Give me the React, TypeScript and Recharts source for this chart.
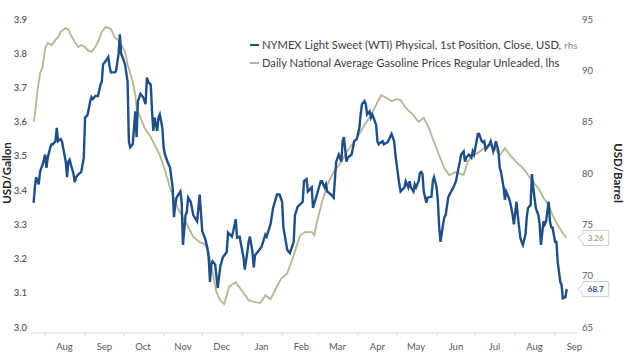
import { LineChart, Line, XAxis, YAxis, LabelList } from "recharts";

// x values are days counted from 1 Aug of the first year
const monthStarts = [0, 31, 61, 92, 122, 153, 184, 212, 243, 273, 304, 334, 365, 396];
const monthLabels = ["Aug", "Sep", "Oct", "Nov", "Dec", "Jan", "Feb", "Mar", "Apr", "May", "Jun", "Jul", "Aug", "Sep"];
const monthMids = monthStarts.map((d) => d + 15);

const gasTicks = [3.0, 3.1, 3.2, 3.3, 3.4, 3.5, 3.6, 3.7, 3.8, 3.9];
const wtiTicks = [65, 70, 75, 80, 85, 90, 95];

// Daily National Average Gasoline Prices Regular Unleaded (USD/gallon, lhs)
const gasDays = [
  -9, -8, -6, -4, -2, 0, 2, 5, 8, 10,
  12, 16, 18, 20, 23, 26, 28, 31, 33, 36,
  39, 41, 44, 47, 51, 54, 58, 62, 64, 68,
  70, 71, 74, 78, 82, 85, 89, 93, 97, 103,
  106, 110, 115, 120, 124, 127, 130, 133, 136, 139,
  143, 148, 153, 158, 163, 167, 171, 175, 179, 183,
  188, 192, 195, 198, 202, 207, 209, 211, 215, 219,
  224, 230, 234, 238, 242, 248, 253, 257, 261, 265,
  269, 273, 276, 280, 286, 290, 294, 298, 302, 306,
  310, 314, 319, 325, 328, 332, 337, 341, 345, 349,
  353, 357, 361, 366, 371, 375, 379, 383, 387, 391,
  394, 398, 402, 405,
];
const gasPrices = [
  3.6, 3.62, 3.69, 3.74, 3.76, 3.815, 3.83, 3.824, 3.839, 3.847,
  3.862, 3.874, 3.868, 3.853, 3.833, 3.818, 3.824, 3.818, 3.809, 3.804,
  3.818, 3.833, 3.862, 3.877, 3.871, 3.847, 3.833, 3.804, 3.768, 3.716,
  3.678, 3.64, 3.611, 3.576, 3.555, 3.532, 3.502, 3.458, 3.406, 3.347,
  3.327, 3.301, 3.263, 3.248, 3.242, 3.219, 3.16, 3.102, 3.078, 3.067,
  3.119, 3.131, 3.105, 3.078, 3.073, 3.07, 3.093, 3.081, 3.111, 3.14,
  3.157, 3.198, 3.233, 3.268, 3.277, 3.277, 3.268, 3.306, 3.365, 3.415,
  3.453, 3.482, 3.511, 3.532, 3.552, 3.59, 3.619, 3.649, 3.678, 3.669,
  3.66, 3.666, 3.663, 3.64, 3.619, 3.599, 3.611, 3.581, 3.54, 3.502,
  3.464, 3.444, 3.453, 3.444, 3.482, 3.502, 3.511, 3.523, 3.532, 3.523,
  3.502, 3.523, 3.502, 3.482, 3.464, 3.444, 3.423, 3.406, 3.377, 3.356,
  3.327, 3.298, 3.274, 3.26,
];

// NYMEX Light Sweet (WTI) Physical, 1st Position, Close (USD/barrel, rhs)
const wtiDays = [
  -9, -8, -7, -5, -4, -3, -2, 0, 1, 2,
  4, 5, 6, 8, 9, 10, 12, 13, 16, 17,
  18, 19, 20, 22, 23, 24, 26, 28, 30, 31,
  32, 33, 35, 36, 37, 39, 41, 43, 44, 45,
  47, 49, 50, 51, 54, 55, 57, 58, 59, 60,
  62, 64, 65, 66, 68, 70, 71, 72, 74, 76,
  78, 79, 80, 82, 83, 84, 85, 87, 88, 89,
  91, 92, 93, 95, 96, 97, 99, 100, 101, 102,
  105, 106, 107, 109, 110, 111, 113, 114, 115, 118,
  120, 122, 123, 124, 126, 127, 128, 129, 130, 132,
  134, 136, 138, 141, 142, 145, 146, 148, 149, 151,
  154, 155, 157, 158, 159, 161, 162, 163, 165, 168,
  171, 172, 175, 177, 180, 182, 184, 185, 188, 190,
  193, 194, 196, 200, 201, 203, 204, 207, 208, 211,
  214, 215, 217, 218, 219, 222, 224, 226, 228, 230,
  231, 232, 234, 235, 238, 240, 242, 244, 245, 246,
  248, 249, 250, 252, 253, 254, 255, 257, 258, 259,
  262, 263, 266, 269, 271, 272, 273, 275, 276, 279,
  280, 282, 283, 284, 286, 287, 288, 290, 291, 292,
  293, 294, 296, 297, 300, 301, 302, 304, 305, 306,
  307, 309, 310, 311, 313, 314, 317, 319, 321, 322,
  323, 325, 326, 327, 329, 331, 332, 333, 335, 336,
  337, 339, 340, 341, 342, 345, 346, 348, 349, 350,
  352, 353, 354, 356, 357, 358, 360, 361, 362, 363,
  364, 366, 367, 369, 370, 371, 373, 374, 375, 377,
  378, 379, 380, 381, 383, 384, 385, 387, 388, 389,
  391, 392, 393, 394, 396, 397, 398, 400, 401, 402,
  404, 405,
];
const wtiPrices = [
  77.1, 78.6, 79.6, 78.9, 80.1, 80.5, 80.8, 81.8, 80.5, 81.5,
  82.5, 82.8, 82.8, 83.1, 84.4, 83.1, 83.3, 83.1, 81.1, 79.6,
  81.1, 81.3, 80.8, 79.9, 79.1, 79.6, 79.9, 80.1, 81.5, 85.4,
  85.5, 85.7, 87.0, 87.4, 87.2, 87.5, 87.5, 88.6, 88.9, 90.6,
  90.9, 91.3, 90.4, 89.8, 89.8, 89.9, 91.6, 93.5, 91.6, 91.3,
  90.6, 88.9, 83.1, 82.5, 82.8, 86.0, 83.5, 87.0, 87.7, 87.4,
  86.7, 89.3, 88.9, 88.6, 86.0, 84.1, 85.4, 84.1, 85.4, 85.7,
  84.4, 82.5, 81.8, 81.1, 80.8, 80.5, 78.6, 75.7, 76.9, 77.6,
  78.2, 77.2, 73.0, 75.9, 76.2, 77.6, 77.2, 76.6, 75.9, 75.3,
  77.9, 74.3, 74.0, 73.7, 72.7, 71.7, 69.4, 71.1, 71.4, 71.1,
  68.8, 70.9, 71.8, 72.3, 74.2, 73.8, 74.3, 75.5, 73.7, 73.8,
  71.8, 70.6, 72.3, 73.3, 73.8, 72.3, 70.8, 72.0, 72.3, 72.8,
  74.0, 73.8, 75.0, 76.6, 77.9, 77.9, 77.2, 74.7, 72.5, 72.2,
  73.3, 75.9, 76.7, 77.2, 79.2, 79.4, 78.2, 78.6, 76.6, 77.9,
  79.2, 79.2, 78.6, 78.9, 78.2, 77.9, 77.6, 81.1, 81.8, 81.1,
  83.1, 83.5, 81.1, 81.5, 81.8, 83.1, 83.3, 84.4, 85.7, 86.7,
  87.0, 86.7, 85.7, 86.0, 85.4, 85.7, 85.4, 84.7, 83.1, 82.8,
  83.1, 82.8, 83.0, 83.8, 83.1, 81.8, 80.8, 78.9, 78.2, 78.6,
  79.2, 78.6, 79.2, 78.6, 78.2, 78.9, 78.6, 79.2, 80.0, 80.1,
  79.9, 78.2, 77.1, 77.6, 77.7, 79.2, 79.6, 78.6, 77.2, 74.7,
  73.3, 75.0, 75.7, 75.9, 77.6, 77.9, 78.6, 79.2, 80.5, 81.1,
  81.8, 82.1, 81.1, 81.5, 81.8, 81.5, 82.1, 81.8, 83.1, 83.8,
  83.8, 83.1, 83.0, 83.1, 82.3, 82.8, 83.1, 82.1, 82.5, 83.1,
  82.1, 80.5, 80.1, 78.6, 77.4, 78.2, 77.6, 77.2, 76.6, 75.9,
  75.0, 77.2, 75.9, 73.7, 73.3, 73.0, 74.0, 75.7, 76.6, 76.9,
  79.9, 78.6, 77.6, 76.6, 75.9, 75.0, 73.0, 75.3, 75.0, 75.3,
  77.2, 75.3, 74.7, 74.7, 73.3, 73.3, 71.4, 69.4, 69.1, 67.8,
  67.9, 68.7,
];

const WTI_COLOR = "#1d4f8a";
const GAS_COLOR = "#bab391";
const TEXT = "#595959";
const FONT = "Lato, 'Open Sans', sans-serif";

const gasData = gasDays.map((d, i) => ({ d, v: gasPrices[i] }));
const wtiData = wtiDays.map((d, i) => ({ d, v: wtiPrices[i] }));
const xTicks = [...monthStarts, ...monthMids].sort((a, b) => a - b);

function MonthTick({ x, y, payload }: any) {
  if (monthStarts.includes(payload.value)) {
    return <line x1={x} x2={x} y1={y} y2={y + 3} stroke="#d9d9d9" />;
  }
  const idx = monthMids.indexOf(payload.value);
  return (
    <text x={x} y={y + 13} textAnchor="middle" dominantBaseline="central" fill={TEXT} fontSize={9.5} fontFamily={FONT}>
      {monthLabels[idx]}
    </text>
  );
}

function LeftTick({ x, y, payload }: any) {
  return (
    <text x={x - 4} y={y} textAnchor="end" dominantBaseline="central" fill={TEXT} fontSize={9.5} fontWeight={600} fontFamily={FONT}>
      {payload.value.toFixed(1)}
    </text>
  );
}

function RightTick({ x, y, payload }: any) {
  return (
    <text x={x + 5} y={y} textAnchor="start" dominantBaseline="central" fill={TEXT} fontSize={9.5} fontFamily={FONT}>
      {payload.value}
    </text>
  );
}

function AxisTitle({ viewBox, side, text }: any) {
  const cy = viewBox.y + viewBox.height / 2 - 3;
  const cx = side === "left" ? viewBox.x + 6 : viewBox.x + viewBox.width - 22;
  return (
    <text
      x={cx}
      y={cy}
      transform={`rotate(${side === "left" ? -90 : 90} ${cx} ${cy})`}
      textAnchor="middle"
      dominantBaseline="central"
      fill="#262626"
      fontSize={11.5}
      fontWeight={700}
      fontFamily={FONT}
    >
      {text}
    </text>
  );
}

// little callout box with the last value, pointing at the series end
function makeEndLabel(count: number, color: string, digits: number) {
  return function EndLabel({ x, y, value, index }: any) {
    if (index !== count - 1) return null;
    const l = x + 16;
    const r = x + 42;
    return (
      <g>
        <path
          d={`M${l - 5},${y} L${l},${y - 4} L${l},${y - 7.5} L${r},${y - 7.5} L${r},${y + 7.5} L${l},${y + 7.5} L${l},${y + 4} Z`}
          fill="#fff"
          stroke="#cfcfcf"
        />
        <text x={(l + r) / 2} y={y} textAnchor="middle" dominantBaseline="central" fill={color} fontSize={8} fontWeight={700} fontFamily={FONT}>
          {Number(value).toFixed(digits)}
        </text>
      </g>
    );
  };
}

export default function App() {
  return (
    <div style={{ position: "absolute", left: 0, top: 0, width: 640, height: 355, background: "#fff", fontFamily: FONT }}>
      <LineChart width={640} height={355} margin={{ top: 19, right: 0, bottom: 0, left: 0 }}>
        <XAxis
          type="number"
          dataKey="d"
          domain={[-11, 413]}
          ticks={xTicks}
          interval={0}
          allowDataOverflow
          tick={<MonthTick />}
          tickLine={false}
          tickSize={0}
          tickMargin={0}
          height={22}
          axisLine={{ stroke: "#d9d9d9" }}
        />
        <YAxis
          yAxisId="left"
          orientation="left"
          width={31}
          domain={[2.9825, 3.9]}
          ticks={gasTicks}
          interval={0}
          allowDataOverflow
          axisLine={false}
          tickLine={false}
          tickSize={0}
          tickMargin={0}
          tick={<LeftTick />}
          label={<AxisTitle side="left" text="USD/Gallon" />}
        />
        <YAxis
          yAxisId="right"
          orientation="right"
          width={63}
          domain={[64.416, 95]}
          ticks={wtiTicks}
          interval={0}
          allowDataOverflow
          axisLine={false}
          tickLine={false}
          tickSize={0}
          tickMargin={0}
          tick={<RightTick />}
          label={<AxisTitle side="right" text="USD/Barrel" />}
        />
        <Line
          yAxisId="left"
          data={gasData}
          dataKey="v"
          type="linear"
          stroke={GAS_COLOR}
          strokeWidth={1.8}
          dot={false}
          isAnimationActive={false}
        >
          <LabelList dataKey="v" content={makeEndLabel(gasData.length, "#a89f74", 2)} />
        </Line>
        <Line
          yAxisId="right"
          data={wtiData}
          dataKey="v"
          type="linear"
          stroke={WTI_COLOR}
          strokeWidth={2.4}
          dot={false}
          isAnimationActive={false}
        >
          <LabelList dataKey="v" content={makeEndLabel(wtiData.length, WTI_COLOR, 1)} />
        </Line>
      </LineChart>

      {/* Legend */}
      <div style={{ position: "absolute", left: 250, top: 36, fontSize: 11.2, color: "#404040", lineHeight: "18px" }}>
        <div style={{ display: "flex", alignItems: "center", whiteSpace: "nowrap" }}>
          <span style={{ display: "inline-block", width: 9, height: 2.5, background: WTI_COLOR, marginRight: 3 }} />
          NYMEX Light Sweet (WTI) Physical, 1st Position, Close, USD,&nbsp;<span style={{ color: "#8c8c8c", fontSize: 10 }}>rhs</span>
        </div>
        <div style={{ display: "flex", alignItems: "center", whiteSpace: "nowrap" }}>
          <span style={{ display: "inline-block", width: 9, height: 2, background: GAS_COLOR, marginRight: 3 }} />
          Daily National Average Gasoline Prices Regular Unleaded, lhs
        </div>
      </div>
    </div>
  );
}
